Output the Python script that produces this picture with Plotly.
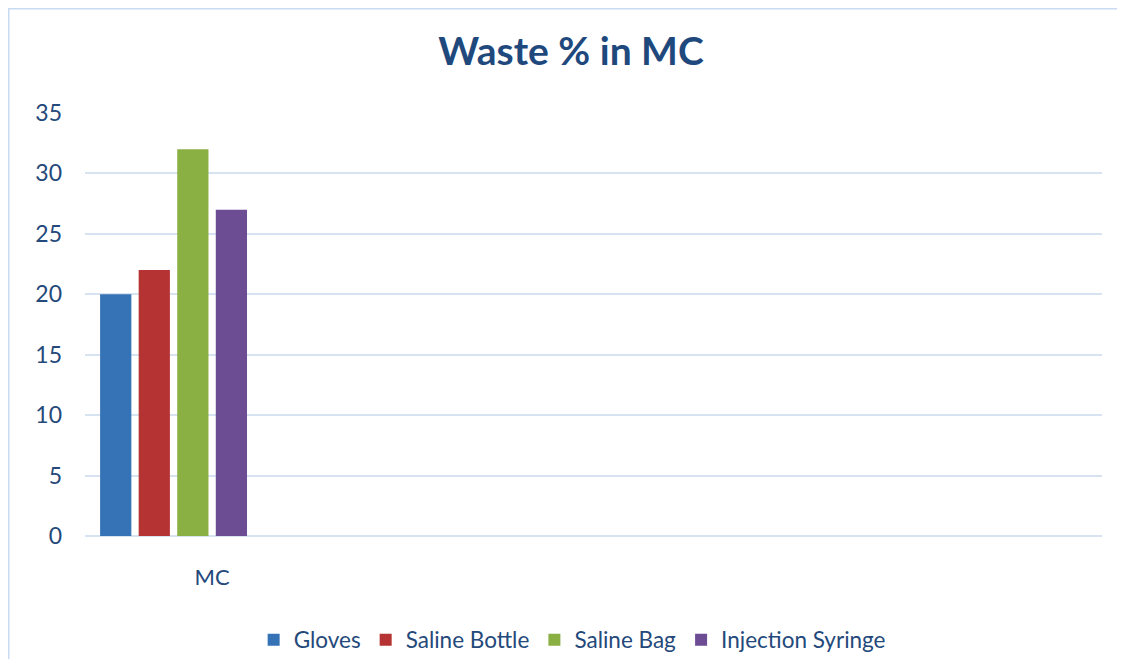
import plotly.graph_objects as go

categories = ["MC"]
series_names = ["Gloves", "Saline Bottle", "Saline Bag", "Injection Syringe"]
series_values = [[20], [22], [32], [27]]
series_colors = ["#3672B6", "#B53332", "#8AAF43", "#6C4D94"]
y_ticks = [0, 5, 10, 15, 20, 25, 30, 35]

FONT = "Lato, Liberation Sans, sans-serif"
TXT = "#24497A"

fig = go.Figure()
for name, vals, col in zip(series_names, series_values, series_colors):
    fig.add_trace(go.Bar(x=categories, y=vals, name=name, marker=dict(color=col, line=dict(width=0))))
# two empty slots in the group (unused series in the original workbook)
for _ in range(2):
    fig.add_trace(go.Bar(x=categories, y=[None], showlegend=False, hoverinfo="skip"))

fig.update_layout(
    width=1117, height=651,
    margin=dict(l=77, r=23, t=105, b=123, autoexpand=False),
    paper_bgcolor="white", plot_bgcolor="white",
    barmode="group", bargap=0.09, bargroupgap=0.19,
    title=dict(text="<b>Waste % in MC</b>", x=0.504, xanchor="center", y=0.933, yanchor="middle",
               font=dict(family=FONT, size=39, color="#1F497D")),
    font=dict(family=FONT, size=22, color=TXT),
    legend=dict(orientation="h", x=0.479, xanchor="center", y=-0.246, yanchor="middle",
                font=dict(family=FONT, size=22.5, color=TXT), itemwidth=30, traceorder="normal"),
    xaxis=dict(range=[-0.5, 3.5], showgrid=False, zeroline=False, showline=False, ticks="",
               ticklabelstandoff=26, tickfont=dict(family=FONT, size=22, color=TXT)),
    yaxis=dict(range=[0, 35], tickvals=y_ticks, showgrid=True, gridcolor="#D7E3F1", gridwidth=2,
               zeroline=True, zerolinecolor="#D7E3F1", zerolinewidth=2, showline=False, ticks="",
               ticklabelstandoff=22, tickfont=dict(family=FONT, size=23, color=TXT)),
    shapes=[dict(type="rect", xref="paper", yref="paper", x0=-0.0757, x1=1.05, y0=-0.4, y1=1.248,
                 line=dict(color="#C9DBF0", width=3), fillcolor="rgba(0,0,0,0)", layer="below")],
)
fig.write_html("out.html")
